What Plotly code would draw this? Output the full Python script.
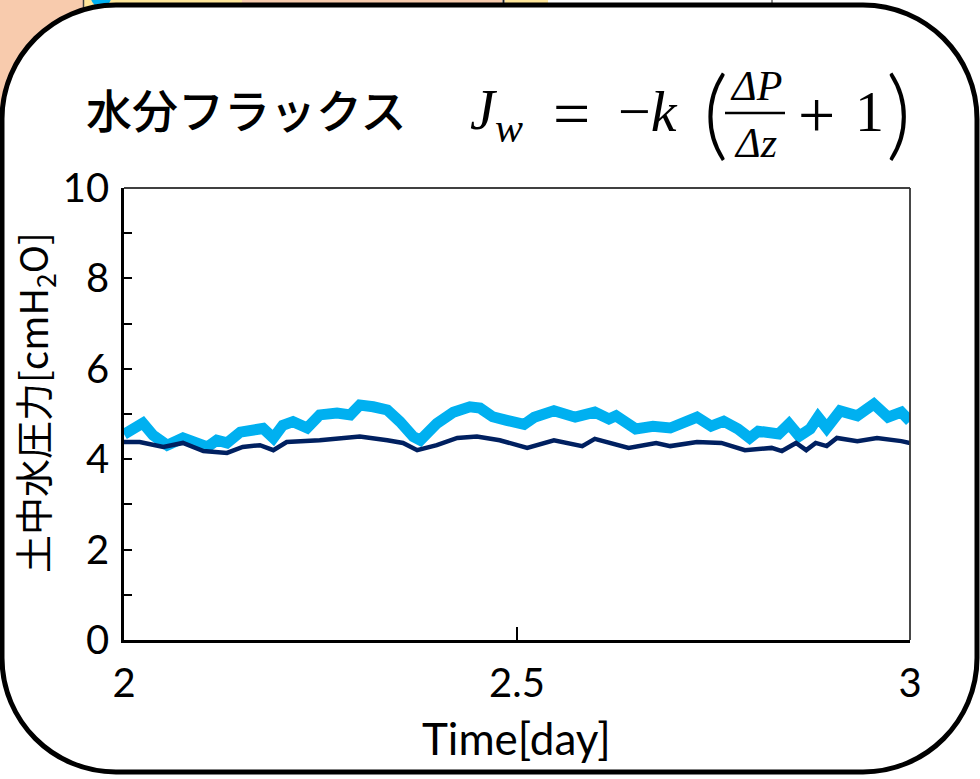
import plotly.graph_objects as go

# ---------------- data ----------------
light_x = [2.000, 2.024, 2.037, 2.055, 2.075, 2.093, 2.106, 2.118, 2.131, 2.148,
           2.164, 2.177, 2.190, 2.202, 2.215, 2.233, 2.249, 2.271, 2.288, 2.300,
           2.317, 2.335, 2.351, 2.368, 2.377, 2.398, 2.419, 2.440, 2.453, 2.469,
           2.487, 2.509, 2.522, 2.547, 2.574, 2.599, 2.617, 2.626, 2.651, 2.673,
           2.695, 2.729, 2.747, 2.763, 2.781, 2.796, 2.807, 2.833, 2.846, 2.859,
           2.873, 2.883, 2.894, 2.911, 2.933, 2.954, 2.972, 2.989, 3.000]
light_y = [4.55, 4.80, 4.53, 4.31, 4.47, 4.36, 4.27, 4.42, 4.36, 4.60,
           4.64, 4.68, 4.47, 4.75, 4.83, 4.69, 4.98, 5.02, 4.98, 5.20,
           5.16, 5.09, 4.83, 4.50, 4.42, 4.79, 5.04, 5.16, 5.13, 4.94,
           4.86, 4.77, 4.93, 5.07, 4.93, 5.04, 4.89, 4.96, 4.67, 4.73,
           4.69, 4.93, 4.73, 4.84, 4.67, 4.47, 4.62, 4.56, 4.78, 4.51,
           4.67, 4.93, 4.69, 5.07, 4.96, 5.22, 4.93, 5.04, 4.84]

navy_x = [2.000, 2.020, 2.050, 2.075, 2.101, 2.131, 2.151, 2.173, 2.190, 2.207,
          2.249, 2.300, 2.335, 2.355, 2.373, 2.398, 2.424, 2.449, 2.478, 2.513,
          2.547, 2.583, 2.599, 2.642, 2.677, 2.695, 2.729, 2.760, 2.790, 2.824,
          2.837, 2.855, 2.868, 2.880, 2.894, 2.907, 2.933, 2.958, 2.989, 3.000]
navy_y = [4.38, 4.38, 4.27, 4.36, 4.18, 4.14, 4.27, 4.31, 4.20, 4.38,
          4.42, 4.50, 4.42, 4.36, 4.20, 4.31, 4.47, 4.50, 4.42, 4.25,
          4.42, 4.29, 4.45, 4.25, 4.36, 4.29, 4.38, 4.36, 4.20, 4.25,
          4.18, 4.36, 4.20, 4.36, 4.29, 4.47, 4.40, 4.47, 4.40, 4.36]

x_tickvals = [2, 2.5, 3]
x_ticktext = ["2", "2.5", "3"]
y_tickvals = [0, 2, 4, 6, 8, 10]
y_ticktext = ["0", "2", "4", "6", "8", "10"]
y_minor_tickvals = [1, 3, 5, 7, 9]

title_jp = "水分フラックス"
x_title = "Time[day]"
y_title = "土中水圧力[cmH<sub>2</sub>O]"

# ---------------- geometry helpers ----------------
W, H = 980, 779
L, R, T, B = 124, 910, 188, 640


def px(x):
    return (x - L) / (R - L)


def py(y):
    return (B - y) / (B - T)


def rounded_path(x0, y0, x1, y1, r):
    k = 0.5523 * r

    def p(x, y):
        return f"{px(x):.5f},{py(y):.5f}"
    return (f"M {p(x0 + r, y0)} L {p(x1 - r, y0)} "
            f"C {p(x1 - r + k, y0)} {p(x1, y0 + r - k)} {p(x1, y0 + r)} "
            f"L {p(x1, y1 - r)} "
            f"C {p(x1, y1 - r + k)} {p(x1 - r + k, y1)} {p(x1 - r, y1)} "
            f"L {p(x0 + r, y1)} "
            f"C {p(x0 + r - k, y1)} {p(x0, y1 - r + k)} {p(x0, y1 - r)} "
            f"L {p(x0, y0 + r)} "
            f"C {p(x0, y0 + r - k)} {p(x0 + r - k, y0)} {p(x0 + r, y0)} Z")


def rect(x0, y0, x1, y1, color, layer="below"):
    return dict(type="rect", xref="paper", yref="paper",
                x0=px(x0), x1=px(x1), y0=py(y0), y1=py(y1),
                fillcolor=color, line=dict(width=0), layer=layer)


def vline(x, y0, y1, color, width, layer="below"):
    return dict(type="line", xref="paper", yref="paper",
                x0=px(x), x1=px(x), y0=py(y0), y1=py(y1),
                line=dict(color=color, width=width), layer=layer)


PEACH = "#F8CBAD"
YELLOW = "#FFE699"

shapes = [
    rect(0, -5, 83, 320, PEACH),
    rect(84, -5, 242, 60, YELLOW),
    rect(242, -5, 502, 60, PEACH),
    rect(505, -5, 548, 60, YELLOW),
    vline(83.5, -5, 60, "#404040", 1.5),
    vline(503.5, -5, 60, "#202020", 2),
    vline(772, -5, 10, "#202020", 1),
    dict(type="circle", xref="paper", yref="paper",
         x0=px(91), x1=px(111), y0=py(-12), y1=py(7),
         fillcolor="#00B0F0", line=dict(width=0), layer="below"),
    dict(type="path", xref="paper", yref="paper",
         path=rounded_path(2, 5, 977, 772, 114),
         fillcolor="white", line=dict(color="black", width=5), layer="below"),
    # top and right frame of plot area (thinner than left/bottom)
    dict(type="line", xref="paper", yref="paper", x0=0, x1=1, y0=1, y1=1,
         line=dict(color="black", width=1.5), layer="above"),
    dict(type="line", xref="paper", yref="paper", x0=1, x1=1, y0=0, y1=1,
         line=dict(color="#333333", width=1.8), layer="above"),
    # fraction bar
    dict(type="line", xref="paper", yref="paper",
         x0=px(725), x1=px(785), y0=py(113), y1=py(113),
         line=dict(color="black", width=2.5), layer="above"),
]

fig = go.Figure()
fig.add_trace(go.Scatter(x=light_x, y=light_y, mode="lines",
                         line=dict(color="#00B0F0", width=11),
                         showlegend=False, hoverinfo="skip"))
fig.add_trace(go.Scatter(x=navy_x, y=navy_y, mode="lines",
                         line=dict(color="#002060", width=4.5),
                         showlegend=False, hoverinfo="skip"))

MATH = "Liberation Serif"


def ann(text, x, y, size, family=MATH, xanchor="center", yanchor="middle",
        weight=None):
    f = dict(family=family, size=size, color="black")
    if weight is not None:
        f["weight"] = weight
    return dict(text=text, x=px(x), y=py(y), xref="paper", yref="paper",
                xanchor=xanchor, yanchor=yanchor, showarrow=False, font=f)


annotations = [
    ann(title_jp, 84, 108, 46, family="Noto Sans CJK JP", xanchor="left",
        weight=500),
    ann("<i>J</i>", 484, 110, 56),
    ann("<i>w</i>", 509, 128, 42),
    ann("=", 571, 113, 66),
    ann("−<i>k</i>", 648, 112, 58),
    ann("(", 715, 110, 98, family="Lato", weight=300),
    ann("<i>ΔP</i>", 756, 86, 42),
    ann("<i>Δz</i>", 755, 143, 42),
    ann("+", 816, 114, 66),
    ann("1", 869, 112, 58),
    ann(")", 898, 110, 98, family="Lato", weight=300),
    dict(text=y_title, x=px(34), y=py(403), xref="paper", yref="paper",
         xanchor="center", yanchor="middle", showarrow=False, textangle=-90,
         font=dict(family="Noto Sans CJK JP", size=38, color="black")),
    ann(x_title, 516, 738, 44, family="Lato"),
]

fig.update_layout(
    width=W, height=H,
    margin=dict(l=L, r=W - R, t=T, b=H - B, pad=0),
    paper_bgcolor="white",
    plot_bgcolor="rgba(0,0,0,0)",
    shapes=shapes,
    annotations=annotations,
    showlegend=False,
    xaxis=dict(range=[2, 3], tickvals=x_tickvals, ticktext=x_ticktext,
               ticks="inside", ticklen=13, tickwidth=1.5, tickcolor="black",
               showline=True, linecolor="black", linewidth=2.5,
               showgrid=False, zeroline=False, mirror=False,
               tickfont=dict(family="Lato", size=40, color="black"),
               ticklabelstandoff=6),
    yaxis=dict(range=[0, 10], tickvals=y_tickvals, ticktext=y_ticktext,
               ticks="inside", ticklen=8, tickwidth=1.5, tickcolor="black",
               minor=dict(tickvals=y_minor_tickvals, ticks="inside", ticklen=8,
                          tickwidth=1.5, tickcolor="black", showgrid=False),
               showline=True, linecolor="black", linewidth=2.5,
               showgrid=False, zeroline=False, mirror=False,
               tickfont=dict(family="Lato", size=40, color="black"),
               ticklabelstandoff=4),
)

fig.write_html(
    "out.html",
    config={"displayModeBar": False},
    post_script="document.body.style.margin='0';"
                "document.body.style.overflow='hidden';",
)
